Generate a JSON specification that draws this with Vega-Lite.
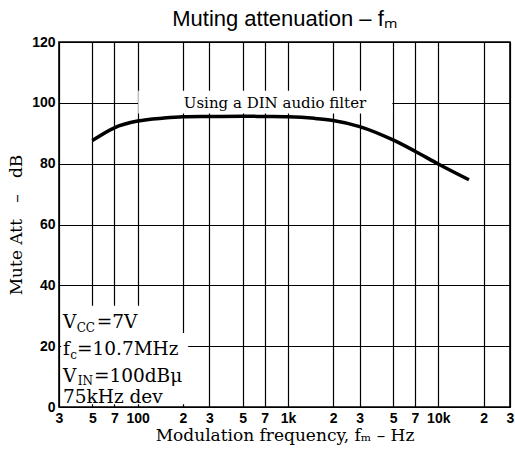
{
  "$schema": "https://vega.github.io/schema/vega-lite/v6.json",
  "width": 451,
  "height": 365,
  "autosize": "none",
  "padding": {"left": 59, "top": 42, "right": 5, "bottom": 43},
  "background": "white",
  "config": {"view": {"stroke": "black", "strokeWidth": 1.6}},
  "title": {"text": "Muting attenuation – fₘ", "font": "Liberation Sans", "fontSize": 22, "fontWeight": "normal", "color": "black", "offset": 4, "anchor": "middle"},
  "datasets": {
    "curve": [
      {"f": 50, "att": 87.6}, {"f": 70, "att": 91.8}, {"f": 100, "att": 94.0}, {"f": 150, "att": 95.0},
      {"f": 200, "att": 95.4}, {"f": 300, "att": 95.5}, {"f": 500, "att": 95.6}, {"f": 700, "att": 95.5},
      {"f": 1000, "att": 95.4}, {"f": 1500, "att": 94.9}, {"f": 2000, "att": 94.2}, {"f": 3000, "att": 92.2},
      {"f": 5000, "att": 87.8}, {"f": 7000, "att": 84.1}, {"f": 10000, "att": 79.9}, {"f": 16000, "att": 74.7}
    ],
    "boxes": [
      {"x1": 31, "x2": 121, "y1": 24, "y2": 33.3},
      {"x1": 31, "x2": 217, "y1": 0.9, "y2": 24.3},
      {"x1": 101, "x2": 4950, "y1": 96.5, "y2": 104}
    ],
    "notes": [
      {"x": 31.9, "y": 26.0, "text": "V"}, {"x": 53.5, "y": 26.0, "text": "=7V"},
      {"x": 31.9, "y": 17.1, "text": "f"}, {"x": 39.5, "y": 17.1, "text": "=10.7MHz"},
      {"x": 31.9, "y": 8.2, "text": "V"}, {"x": 51.2, "y": 8.2, "text": "=100dBμ"},
      {"x": 31.9, "y": 1.3, "text": "75kHz dev"}
    ],
    "subs": [
      {"x": 39.3, "y": 24.7, "text": "CC"}, {"x": 35.7, "y": 15.8, "text": "c"}, {"x": 40.0, "y": 7.2, "text": "IN"}
    ],
    "label": [
      {"x": 820, "y": 98.4, "text": "Using a DIN audio filter"}
    ]
  },
  "layer": [
    {
      "data": {"name": "boxes"},
      "mark": {"type": "rect", "fill": "white", "strokeWidth": 0},
      "encoding": {
        "x": {
          "field": "x1", "type": "quantitative",
          "scale": {"type": "log", "domain": [30, 30000], "nice": false},
          "axis": {
            "values": [30, 50, 70, 100, 200, 300, 500, 700, 1000, 2000, 3000, 5000, 7000, 10000, 20000, 30000],
            "labelExpr": "datum.value == 100 ? '100' : datum.value == 1000 ? '1k' : datum.value == 10000 ? '10k' : substring(toString(datum.value), 0, 1)",
            "grid": true, "gridColor": "black", "gridOpacity": 1, "gridWidth": 1.2,
            "ticks": false, "domain": false,
            "labelFont": "Liberation Sans", "labelFontWeight": "bold", "labelFontSize": 14, "labelColor": "black",
            "labelPadding": 4, "labelFlush": false, "labelOverlap": false, "labelBound": false,
            "title": "Modulation frequency, fₘ – Hz", "titleFont": "DejaVu Serif", "titleFontSize": 17,
            "titleFontWeight": "normal", "titleColor": "black", "titlePadding": 2
          }
        },
        "x2": {"field": "x2"},
        "y": {
          "field": "y1", "type": "quantitative",
          "scale": {"type": "linear", "domain": [0, 120], "nice": false, "zero": false},
          "axis": {
            "values": [0, 20, 40, 60, 80, 100, 120],
            "grid": true, "gridColor": "black", "gridOpacity": 1, "gridWidth": 1.2,
            "ticks": false, "domain": false,
            "labelFont": "Liberation Sans", "labelFontWeight": "bold", "labelFontSize": 14, "labelColor": "black",
            "labelPadding": 4, "labelFlush": false, "labelOverlap": false, "labelBound": false,
            "title": "Mute Att\u00a0\u00a0\u00a0–\u00a0\u00a0\u00a0dB", "titleFont": "DejaVu Serif", "titleFontSize": 17,
            "titleFontWeight": "normal", "titleColor": "black", "titlePadding": 6
          }
        },
        "y2": {"field": "y2"}
      }
    },
    {
      "data": {"name": "curve"},
      "mark": {"type": "line", "color": "black", "strokeWidth": 3.5, "interpolate": "monotone"},
      "encoding": {
        "x": {"field": "f", "type": "quantitative"},
        "y": {"field": "att", "type": "quantitative"}
      }
    },
    {
      "data": {"name": "notes"},
      "mark": {"type": "text", "font": "DejaVu Serif", "fontSize": 18.5, "align": "left", "baseline": "alphabetic", "color": "black"},
      "encoding": {
        "x": {"field": "x", "type": "quantitative"},
        "y": {"field": "y", "type": "quantitative"},
        "text": {"field": "text"}
      }
    },
    {
      "data": {"name": "subs"},
      "mark": {"type": "text", "font": "DejaVu Serif", "fontSize": 12, "align": "left", "baseline": "alphabetic", "color": "black"},
      "encoding": {
        "x": {"field": "x", "type": "quantitative"},
        "y": {"field": "y", "type": "quantitative"},
        "text": {"field": "text"}
      }
    },
    {
      "data": {"name": "label"},
      "mark": {"type": "text", "font": "DejaVu Serif", "fontSize": 15, "align": "center", "baseline": "alphabetic", "color": "black"},
      "encoding": {
        "x": {"field": "x", "type": "quantitative"},
        "y": {"field": "y", "type": "quantitative"},
        "text": {"field": "text"}
      }
    }
  ]
}
